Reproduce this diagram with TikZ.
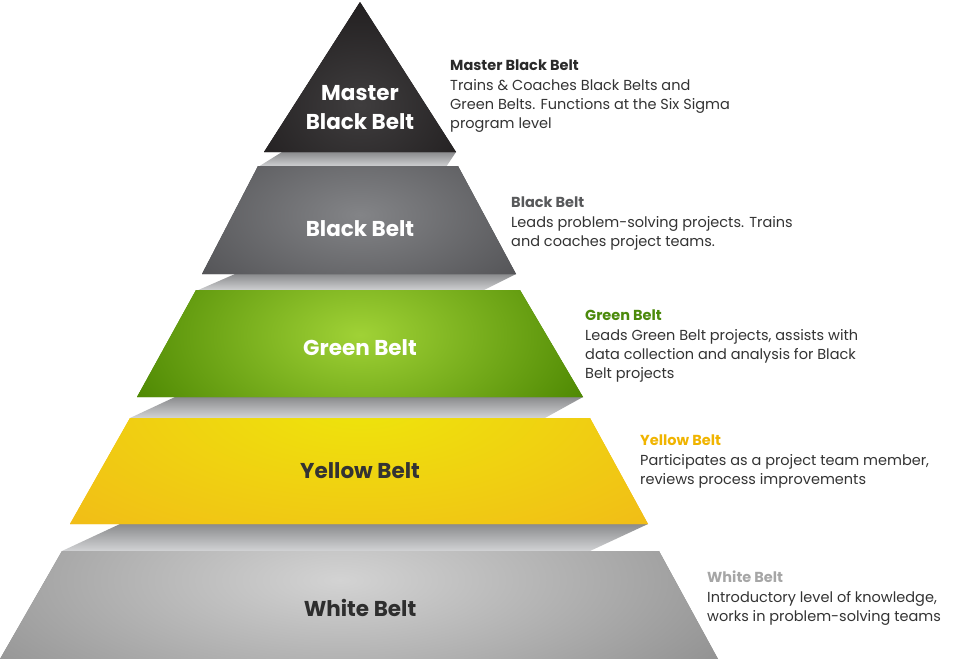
\documentclass[tikz,border=0pt]{standalone}
\usepackage{fontspec}
\setmainfont{Poppins}
\definecolor{mbA}{HTML}{3F3D3E}
\definecolor{mbB}{HTML}{1E1B1C}
\definecolor{blkA}{HTML}{838487}
\definecolor{blkB}{HTML}{47474A}
\definecolor{grA}{HTML}{A0D236}
\definecolor{grB}{HTML}{4A8500}
\definecolor{yelA}{HTML}{EEE50B}
\definecolor{yelB}{HTML}{F2B619}
\definecolor{whA}{HTML}{D3D3D3}
\definecolor{whB}{HTML}{868686}
\definecolor{slabT}{HTML}{8A8B8D}
\definecolor{slabB}{HTML}{D2D3D5}
\definecolor{txt}{HTML}{333333}
\definecolor{hMaster}{HTML}{2A2A2A}
\definecolor{hBlack}{HTML}{58595B}
\definecolor{hGreen}{HTML}{4C8A0C}
\definecolor{hYellow}{HTML}{F0B400}
\definecolor{hWhite}{HTML}{A6A6A6}
\tikzset{
  slab/.style={top color=slabT, bottom color=slabB},
  tierlabel/.style={font=\fontsize{21.5}{29}\selectfont\bfseries, align=center, inner sep=0pt},
  desc/.style={font=\fontsize{14.5}{19.3}\selectfont, text=txt, align=left, inner sep=0pt, anchor=north west},
}
\begin{document}
\begin{tikzpicture}[x=1pt,y=-1pt]
\useasboundingbox (0,0) rectangle (954,659);
% slabs
\shade[slab] (282,152) -- (456,152) -- (446,167) -- (258,167) -- cycle;
\shade[slab] (235,274) -- (516,274) -- (482,291) -- (196,291) -- cycle;
\shade[slab] (175,397) -- (583,397) -- (545,418) -- (130,418) -- cycle;
\shade[slab] (120,524) -- (648,524) -- (590,551) -- (62,551) -- cycle;
% tiers
\begin{scope}
  \clip (360,2) -- (456,152) -- (264,152) -- cycle;
  \fill[mbB] (250,0) rectangle (470,155);
  \shade[inner color=mbA, outer color=mbB] (360,105) ellipse (140 and 120);
\end{scope}
\begin{scope}
  \clip (258,166) -- (458,166) -- (516,274) -- (202,274) -- cycle;
  \fill[blkB] (200,160) rectangle (520,280);
  \shade[inner color=blkA, outer color=blkB] (360,215) ellipse (250 and 130);
\end{scope}
\begin{scope}
  \clip (196,290) -- (520,290) -- (583,397) -- (137,397) -- cycle;
  \fill[grB] (130,285) rectangle (590,400);
  \shade[inner color=grA, outer color=grB] (360,335) ellipse (260 and 150);
\end{scope}
\begin{scope}
  \clip (130,418) -- (590,418) -- (648,524) -- (70,524) -- cycle;
  \fill[yelB] (60,410) rectangle (660,530);
  \shade[inner color=yelA, outer color=yelB] (360,405) ellipse (480 and 200);
\end{scope}
\begin{scope}
  \clip (62,551) -- (659,551) -- (718,659) -- (0,659) -- cycle;
  \fill[whB] (0,545) rectangle (720,659);
  \shade[inner color=whA, outer color=whB] (340,580) ellipse (520 and 190);
\end{scope}
% tier labels
\node[tierlabel, text=white] (lmaster) at (360,108) {Master\\Black Belt};
\node[tierlabel, text=white] (lblack) at (360,229) {Black Belt};
\node[tierlabel, text=white] (lgreen) at (360,348) {Green Belt};
\node[tierlabel, text=txt] (lyellow) at (360,471) {Yellow Belt};
\node[tierlabel, text=txt!90!black] (lwhite) at (360,608) {White Belt};
% descriptions
\node[desc] (dmaster) at (450,60) {\textcolor{hMaster}{\bfseries Master Black Belt}\\Trains \& Coaches Black Belts and\\Green Belts. Functions at the Six Sigma\\program level};
\node[desc] (dblack) at (511,197) {\textcolor{hBlack}{\bfseries Black Belt}\\Leads problem-solving projects. Trains\\and coaches project teams.};
\node[desc] (dgreen) at (585,310) {\textcolor{hGreen}{\bfseries Green Belt}\\Leads Green Belt projects, assists with\\data collection and analysis for Black\\Belt projects};
\node[desc] (dyellow) at (640,435) {\textcolor{hYellow}{\bfseries Yellow Belt}\\Participates as a project team member,\\reviews process improvements};
\node[desc] (dwhite) at (707,571) {\textcolor{hWhite}{\bfseries White Belt}\\Introductory level of knowledge,\\works in problem-solving teams};
\end{tikzpicture}
\end{document}
